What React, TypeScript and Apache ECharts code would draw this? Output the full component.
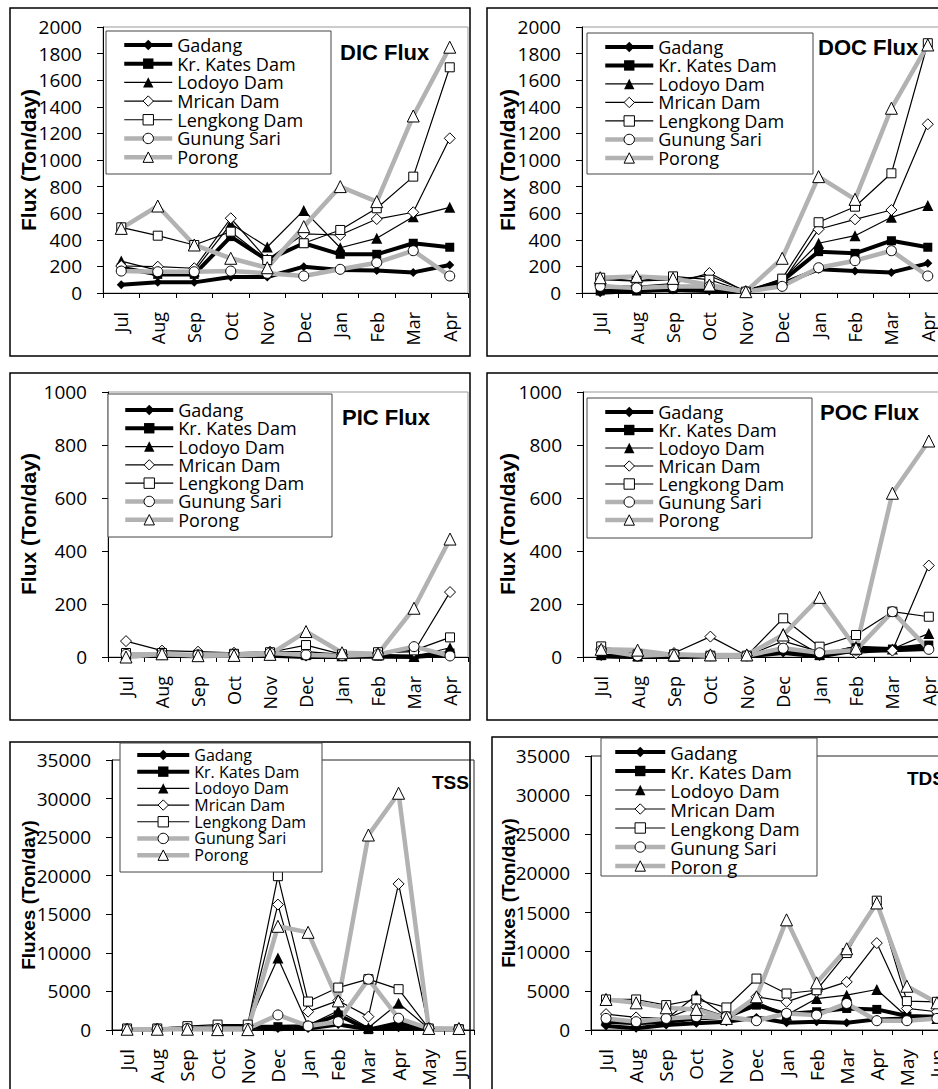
import React, { useEffect, useRef } from "react";
import * as echarts from "echarts";

// ---------- categories ----------
const months10 = ["Jul", "Aug", "Sep", "Oct", "Nov", "Dec", "Jan", "Feb", "Mar", "Apr"];
const months12 = ["Jul", "Aug", "Sep", "Oct", "Nov", "Dec", "Jan", "Feb", "Mar", "Apr", "May", "Jun"];
const stations = ["Gadang", "Kr. Kates Dam", "Lodoyo Dam", "Mrican Dam", "Lengkong Dam", "Gunung Sari", "Porong"];
const stationsTds = ["Gadang", "Kr. Kates Dam", "Lodoyo Dam", "Mrican Dam", "Lengkong Dam", "Gunung Sari", "Poron g"];

// ---------- DIC flux (Ton/day) ----------
const dicGadang = [62, 80, 80, 120, 120, 198, 173, 170, 155, 210];
const dicKrKates = [190, 140, 140, 424, 248, 374, 291, 291, 374, 344];
const dicLodoyo = [240, 170, 165, 520, 346, 621, 340, 411, 574, 644];
const dicMrican = [203, 198, 186, 562, 250, 444, 436, 556, 607, 1163];
const dicLengkong = [494, 431, 361, 461, 248, 374, 474, 637, 875, 1697];
const dicGunungSari = [165, 160, 160, 165, 148, 128, 178, 228, 318, 128];
const dicPorong = [486, 654, 361, 261, 190, 499, 800, 687, 1331, 1848];

// ---------- DOC flux ----------
const docGadang = [2, 15, 23, 15, 9, 70, 178, 165, 155, 223];
const docKrKates = [15, 15, 30, 30, 10, 90, 311, 298, 393, 344];
const docLodoyo = [100, 90, 100, 130, 15, 100, 374, 431, 569, 657];
const docMrican = [60, 50, 70, 150, 10, 80, 479, 554, 624, 1269];
const docLengkong = [115, 90, 125, 100, 10, 108, 532, 649, 900, 1878];
const docGunungSari = [50, 38, 48, 50, 10, 50, 190, 243, 318, 128];
const docPorong = [115, 125, 110, 60, 10, 261, 875, 704, 1389, 1865];

// ---------- PIC flux ----------
const picGadang = [3, 5, 3, 5, 5, 0, 0, 3, 0, 10];
const picKrKates = [10, 8, 5, 10, 10, 5, 2, 3, 2, 15];
const picLodoyo = [10, 15, 10, 12, 15, 10, 5, 10, 2, 35];
const picMrican = [60, 24, 20, 16, 20, 20, 10, 15, 20, 245];
const picLengkong = [15, 15, 8, 12, 18, 45, 10, 18, 25, 74];
const picGunungSari = [10, 10, 8, 10, 15, 8, 5, 10, 39, 4];
const picPorong = [0, 12, 5, 6, 10, 96, 16, 12, 184, 445];

// ---------- POC flux ----------
const pocGadang = [2, 0, 0, 2, 3, 15, 2, 25, 25, 30];
const pocKrKates = [5, 0, 0, 5, 3, 25, 5, 35, 30, 45];
const pocLodoyo = [10, 5, 3, 5, 5, 90, 10, 40, 30, 89];
const pocMrican = [30, 2, 15, 77, 5, 60, 20, 14, 24, 345];
const pocLengkong = [40, 10, 10, 5, 5, 146, 39, 83, 171, 152];
const pocGunungSari = [25, 5, 10, 5, 5, 33, 16, 26, 171, 29];
const pocPorong = [29, 26, 8, 8, 8, 83, 225, 33, 618, 815];

// ---------- TSS fluxes ----------
const tssGadang = [100, 100, 150, 300, 300, 200, 200, 700, 100, 300, 100, 100];
const tssKrKates = [100, 100, 200, 300, 400, 430, 500, 1950, 50, 900, 100, 100];
const tssLodoyo = [100, 100, 300, 500, 600, 9320, 600, 2500, 300, 3470, 200, 100];
const tssMrican = [100, 100, 300, 500, 600, 16260, 2380, 3800, 1730, 18940, 200, 100];
const tssLengkong = [200, 200, 500, 700, 700, 19940, 3685, 5500, 6590, 5290, 200, 100];
const tssGunungSari = [100, 100, 200, 200, 200, 1950, 520, 1080, 6590, 1520, 200, 100];
const tssPorong = [100, 100, 100, 50, 50, 13440, 12660, 3770, 25270, 30690, 200, 200];

// ---------- TDS fluxes ----------
const tdsGadang = [508, 212, 636, 847, 1060, 1610, 932, 1060, 932, 1356, 1483, 1483];
const tdsKrKates = [1060, 847, 1060, 1480, 1700, 3180, 2030, 2330, 2750, 2630, 1780, 1700];
const tdsLodoyo = [1270, 1060, 1360, 4450, 1700, 3600, 1900, 4020, 4450, 5170, 1700, 1480];
const tdsMrican = [2030, 1610, 1480, 2970, 1700, 4240, 3600, 4900, 6140, 11100, 2750, 2330];
const tdsLengkong = [3900, 3900, 3180, 3900, 2880, 6570, 4660, 5080, 9830, 16520, 3690, 3600];
const tdsGunungSari = [1480, 1060, 1480, 1700, 1700, 1190, 2120, 1900, 3390, 1190, 1190, 1480];
const tdsPorong = [3900, 3470, 2840, 2630, 1480, 4240, 14070, 6020, 10380, 16230, 5590, 3470];

// ---------- styles ----------
const FONT = "'Open Sans', 'Noto Sans', sans-serif";
const BOLD = "'Liberation Sans', Arial, sans-serif";
const GRAY = "#b2b2b2";

const seriesStyles = [
  { lineColor: "#000", lineWidth: 4, symbol: "diamond", symbolSize: 9, fill: "#000", border: 0 },
  { lineColor: "#000", lineWidth: 4, symbol: "rect", symbolSize: 9, fill: "#000", border: 0 },
  { lineColor: "#000", lineWidth: 1.2, symbol: "triangle", symbolSize: 11, fill: "#000", border: 0 },
  { lineColor: "#000", lineWidth: 1.2, symbol: "diamond", symbolSize: 11, fill: "#fff", border: 1 },
  { lineColor: "#000", lineWidth: 1.2, symbol: "rect", symbolSize: 9, fill: "#fff", border: 1 },
  { lineColor: GRAY, lineWidth: 4.5, symbol: "circle", symbolSize: 10, fill: "#fff", border: 1 },
  { lineColor: GRAY, lineWidth: 4.5, symbol: "triangle", symbolSize: 12, fill: "#fff", border: 1 },
];

const panels = [
  {
    cats: months10, max: 2000, interval: 200, names: stations,
    values: [dicGadang, dicKrKates, dicLodoyo, dicMrican, dicLengkong, dicGunungSari, dicPorong],
    grid: { left: 103, top: 27, width: 365, height: 266 }, border: "#999",
    frame: [10, 8, 460, 348], legendBox: [106, 31, 225, 143],
    legend: { left: 122, top: 35.6, w: 48, font: 18, pitch: 18.7 },
    title: { text: "DIC Flux", x: 340, y: 52, size: 22 },
    yName: { text: "Flux (Ton/day)", x: 28, y: 160, size: 21 },
    xFont: 18,
  },
  {
    cats: months10, max: 2000, interval: 200, names: stations,
    values: [docGadang, docKrKates, docLodoyo, docMrican, docLengkong, docGunungSari, docPorong],
    grid: { left: 582, top: 27, width: 364, height: 266 }, border: "#999",
    frame: [487, 8, 460, 348], legendBox: [587, 33, 226, 141],
    legend: { left: 603, top: 37.7, w: 48, font: 18, pitch: 18.5 },
    title: { text: "DOC Flux", x: 818, y: 47, size: 22 },
    yName: { text: "Flux (Ton/day)", x: 507, y: 160, size: 21 },
    xFont: 18,
  },
  {
    cats: months10, max: 1000, interval: 200, names: stations,
    values: [picGadang, picKrKates, picLodoyo, picMrican, picLengkong, picGunungSari, picPorong],
    grid: { left: 108, top: 392, width: 360, height: 265 }, border: "#999",
    frame: [10, 373, 460, 347], legendBox: [108, 394, 224, 143],
    legend: { left: 123, top: 400.8, w: 48, font: 18, pitch: 18.3 },
    title: { text: "PIC Flux", x: 342, y: 417, size: 22 },
    yName: { text: "Flux (Ton/day)", x: 28, y: 524, size: 21 },
    xFont: 18,
  },
  {
    cats: months10, max: 1000, interval: 200, names: stations,
    values: [pocGadang, pocKrKates, pocLodoyo, pocMrican, pocLengkong, pocGunungSari, pocPorong],
    grid: { left: 583, top: 392, width: 364, height: 265 }, border: "#999",
    frame: [487, 373, 460, 347], legendBox: [587, 398, 225, 140],
    legend: { left: 603, top: 403, w: 48, font: 18, pitch: 18 },
    title: { text: "POC Flux", x: 820, y: 412, size: 22 },
    yName: { text: "Flux (Ton/day)", x: 507, y: 524, size: 21 },
    xFont: 18,
  },
  {
    cats: months12, max: 35000, interval: 5000, names: stations,
    values: [tssGadang, tssKrKates, tssLodoyo, tssMrican, tssLengkong, tssGunungSari, tssPorong],
    grid: { left: 112, top: 760, width: 362, height: 270 }, border: "#222",
    frame: [10, 742, 460, 360], legendBox: [120, 743, 202, 129],
    legend: { left: 135, top: 746.6, w: 52, font: 16, pitch: 16.7 },
    title: { text: "TSS", x: 432, y: 782, size: 19 },
    yName: { text: "Fluxes (Ton/day)", x: 28, y: 895, size: 19 },
    xFont: 19,
  },
  {
    cats: months12, max: 35000, interval: 5000, names: stationsTds,
    values: [tdsGadang, tdsKrKates, tdsLodoyo, tdsMrican, tdsLengkong, tdsGunungSari, tdsPorong],
    grid: { left: 591, top: 756, width: 361, height: 274 }, border: "#222",
    frame: [492, 737, 460, 360], legendBox: [601, 738, 216, 138],
    legend: { left: 613, top: 742.5, w: 50, font: 18.5, pitch: 19 },
    title: { text: "TDS", x: 907, y: 778, size: 19 },
    yName: { text: "Fluxes (Ton/day)", x: 508, y: 893, size: 19 },
    xFont: 19,
  },
];

function buildOption() {
  const grid = panels.map((p) => ({
    left: p.grid.left, top: p.grid.top, width: p.grid.width, height: p.grid.height,
    show: true, borderColor: p.border, borderWidth: 1, backgroundColor: "transparent",
    containLabel: false, outerBoundsMode: "none",
  }));
  const xAxis = panels.map((p, i) => ({
    type: "category", gridIndex: i, data: p.cats, boundaryGap: true,
    axisLine: { show: true, lineStyle: { color: "#000", width: 1 } },
    axisTick: { show: true, length: 5, interval: 0, alignWithLabel: false, lineStyle: { color: "#000" } },
    axisLabel: { rotate: 90, interval: 0, margin: 19, fontFamily: FONT, fontSize: p.xFont, color: "#000" },
    splitLine: { show: false },
  }));
  const yAxis = panels.map((p, i) => ({
    type: "value", gridIndex: i, min: 0, max: p.max, interval: p.interval,
    axisLine: { show: true, lineStyle: { color: "#000", width: 1 } },
    axisTick: { show: true, length: 6, lineStyle: { color: "#000" } },
    axisLabel: {
      margin: 21, fontFamily: FONT, fontSize: 19, color: "#000",
      formatter: (v: number) => String(v),
    },
    splitLine: { show: false },
  }));
  const series: any[] = [];
  panels.forEach((p, i) => {
    p.values.forEach((vals, k) => {
      const s = seriesStyles[k];
      series.push({
        type: "line", name: p.names[k], xAxisIndex: i, yAxisIndex: i, data: vals,
        symbol: s.symbol, symbolSize: s.symbolSize, showAllSymbol: true,
        lineStyle: { color: s.lineColor, width: s.lineWidth },
        itemStyle: { color: s.fill, borderColor: "#000", borderWidth: s.border },
        emphasis: { disabled: true }, silent: true,
      });
    });
  });
  const legend = panels.map((p) => ({
    orient: "vertical", left: p.legend.left, top: p.legend.top, data: p.names,
    itemWidth: p.legend.w, itemHeight: 13, itemGap: 0, padding: 0, selectedMode: false,
    textStyle: { fontFamily: FONT, fontSize: p.legend.font, lineHeight: p.legend.pitch, color: "#000" },
    lineStyle: { width: "inherit" },
    itemStyle: { borderWidth: "inherit", borderColor: "inherit", color: "inherit" },
    z: 10,
  }));
  const elements: any[] = [];
  panels.forEach((p) => {
    elements.push({
      type: "rect", shape: { x: p.frame[0], y: p.frame[1], width: p.frame[2], height: p.frame[3] },
      style: { fill: "none", stroke: "#000", lineWidth: 1.5 }, z: 0, silent: true,
    });
    elements.push({
      type: "rect", shape: { x: p.legendBox[0], y: p.legendBox[1], width: p.legendBox[2], height: p.legendBox[3] },
      style: { fill: "#fff", stroke: "#444", lineWidth: 1 }, z: 5, silent: true,
    });
    elements.push({
      type: "text", x: p.title.x, y: p.title.y, z: 6, silent: true,
      style: { text: p.title.text, font: `bold ${p.title.size}px ${BOLD}`, fill: "#000", textAlign: "left", textVerticalAlign: "middle" },
    });
    elements.push({
      type: "text", x: p.yName.x, y: p.yName.y, rotation: Math.PI / 2, z: 6, silent: true,
      style: { text: p.yName.text, font: `bold ${p.yName.size}px ${BOLD}`, fill: "#000", textAlign: "center", textVerticalAlign: "middle" },
    });
  });
  return {
    animation: false,
    backgroundColor: "#fff",
    grid, xAxis, yAxis, series, legend,
    graphic: { elements },
  };
}

export default function App() {
  const ref = useRef<HTMLDivElement>(null);
  useEffect(() => {
    const chart = echarts.init(ref.current!, null, { renderer: "svg" });
    chart.setOption(buildOption() as any);
    return () => chart.dispose();
  }, []);
  return <div ref={ref} style={{ position: "absolute", left: 0, top: 0, width: 938, height: 1089 }} />;
}
